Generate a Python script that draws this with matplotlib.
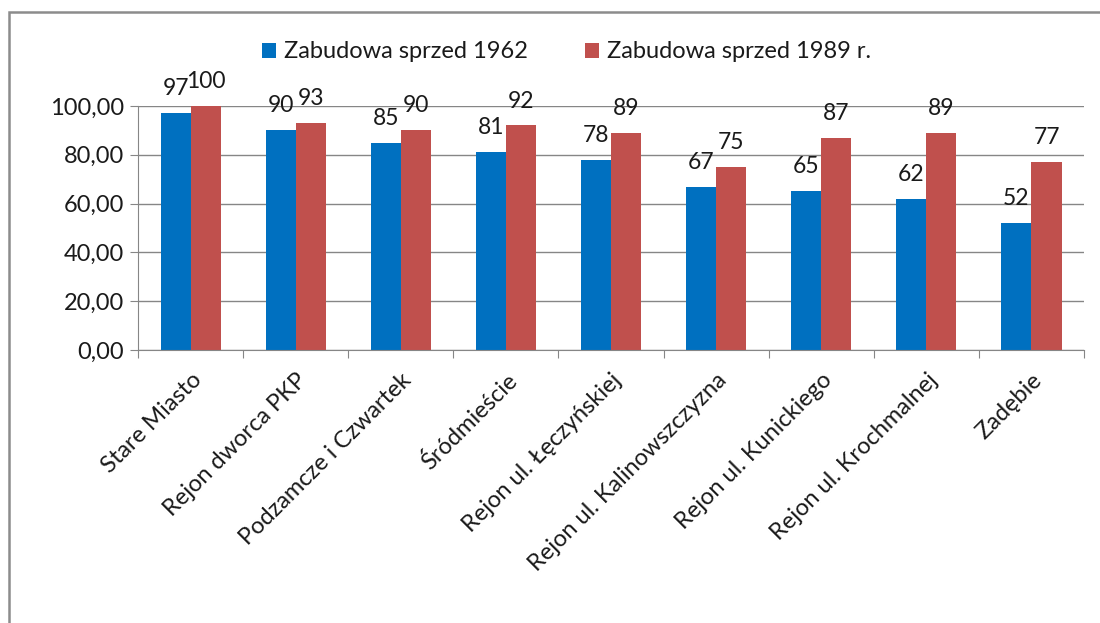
import matplotlib.pyplot as plt
import numpy as np
from matplotlib.patches import Rectangle

# data
categories = ["Stare Miasto", "Rejon dworca PKP", "Podzamcze i Czwartek",
              "Śródmieście", "Rejon ul. Łęczyńskiej", "Rejon ul. Kalinowszczyzna",
              "Rejon ul. Kunickiego", "Rejon ul. Krochmalnej", "Zadębie"]
before_1962 = [97, 90, 85, 81, 78, 67, 65, 62, 52]
before_1989 = [100, 93, 90, 92, 89, 75, 87, 89, 77]
series_names = ["Zabudowa sprzed 1962", "Zabudowa sprzed 1989 r."]
yticks = [0, 20, 40, 60, 80, 100]

BLUE = "#0070C0"
RED = "#C0504D"
GRID = "#868686"
FS = 17

plt.rcParams['font.family'] = ['Lato', 'DejaVu Sans']

fig = plt.figure(figsize=(11, 6.23), dpi=100)
ax = fig.add_axes([0.1255, 0.4382, 0.86, 0.3917])

x = np.arange(len(categories))
w = 2 / 3.5 / 2  # excel gap width 150%
b1 = ax.bar(x - w / 2, before_1962, w, color=BLUE, label=series_names[0])
b2 = ax.bar(x + w / 2, before_1989, w, color=RED, label=series_names[1])

for bars in (b1, b2):
    for rect in bars:
        h = rect.get_height()
        ax.annotate(f"{h:.0f}", (rect.get_x() + rect.get_width() / 2, h),
                    xytext=(0, 10), textcoords="offset points",
                    ha="center", va="bottom", fontsize=16.5, color="#1a1a1a")

ax.set_xlim(-0.5, len(categories) - 0.5)
ax.set_ylim(0, 100)
ax.set_yticks(yticks)
ax.set_yticklabels([f"{v:.2f}".replace(".", ",") for v in yticks], fontsize=FS,
                   color="#1a1a1a")
ax.yaxis.grid(True, color=GRID, linewidth=1)
ax.set_axisbelow(True)

# category boundary ticks, labels at centers
ax.set_xticks(np.arange(len(categories) + 1) - 0.5)
ax.set_xticklabels([])
ax.set_xticks(x, minor=True)
ax.set_xticklabels(categories, minor=True, rotation=45, ha="right",
                   rotation_mode="anchor", fontsize=FS, color="#1a1a1a")
ax.tick_params(axis="x", which="minor", length=0, pad=14)
ax.tick_params(axis="x", which="major", length=6, color=GRID)
ax.tick_params(axis="y", length=6, color=GRID, pad=4)

for s in ("top", "right"):
    ax.spines[s].set_visible(False)
for s in ("left", "bottom"):
    ax.spines[s].set_color(GRID)

ax.legend(loc="center", bbox_to_anchor=(0.515, 1 - 52 / 623), bbox_transform=fig.transFigure,
          ncol=2, frameon=False, fontsize=FS, handlelength=0.6, handleheight=0.6,
          columnspacing=2.4, handletextpad=0.35, labelcolor="#1a1a1a")

# chart border (cut off on the right and bottom)
fig.patches.append(Rectangle((9 / 1100, -0.1), 1.2, 1 - 12 / 623 + 0.1,
                             transform=fig.transFigure, fill=False,
                             edgecolor="#8c8c8c", linewidth=1.8))

fig.savefig("out.png", dpi=100)
